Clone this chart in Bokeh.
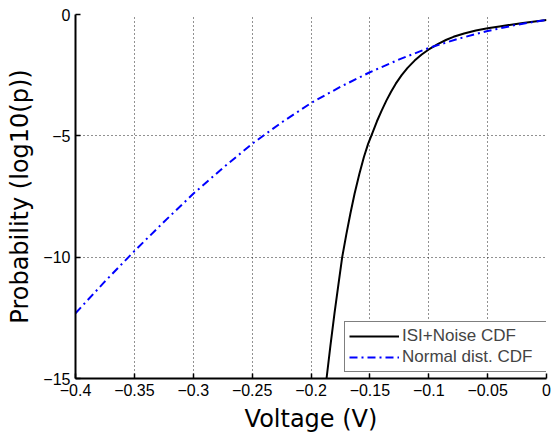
from bokeh.plotting import figure
from bokeh.models import FixedTicker, CustomJSTickFormatter, Range1d
from bokeh.embed import file_html
from bokeh.resources import INLINE

# ISI+Noise CDF (black solid)
isi_v = [-0.1868, -0.1835, -0.1800, -0.1765, -0.1735, -0.1700, -0.1665, -0.1630,
         -0.1590, -0.1550, -0.1515, -0.1488, -0.1440, -0.1400, -0.1360, -0.1320,
         -0.1280, -0.1230, -0.1180, -0.1120, -0.1060, -0.1000, -0.0920, -0.0850,
         -0.0790, -0.0700, -0.0600, -0.0500, -0.0400, -0.0300, -0.0200, -0.0100, 0.0]
isi_p = [-15.0, -13.65, -12.3, -11.05, -10.0, -9.06, -8.19, -7.39,
         -6.58, -5.86, -5.33, -5.0, -4.40, -3.96, -3.55, -3.18,
         -2.85, -2.50, -2.20, -1.90, -1.65, -1.44, -1.21, -1.04,
         -0.92, -0.78, -0.66, -0.57, -0.49, -0.42, -0.35, -0.29, -0.23]

# Normal dist. CDF (blue dash-dot)
norm_v = [-0.400, -0.375, -0.350, -0.325, -0.300, -0.275, -0.250, -0.225, -0.200,
          -0.175, -0.150, -0.125, -0.100, -0.075, -0.050, -0.025, 0.0]
norm_p = [-12.31, -11.0, -9.75, -8.55, -7.39, -6.33, -5.33, -4.45, -3.65,
          -2.98, -2.38, -1.85, -1.38, -1.0, -0.68, -0.42, -0.22]

x_ticks = [-0.4, -0.35, -0.3, -0.25, -0.2, -0.15, -0.1, -0.05, 0.0]
y_ticks = [-15, -10, -5, 0]

p = figure(width=552, height=437, output_backend="svg", toolbar_location=None,
           x_range=Range1d(-0.4, 0.0), y_range=Range1d(-15, 0),
           min_border_left=75, min_border_right=6, min_border_top=14, min_border_bottom=59)
p.outline_line_color = None
p.background_fill_color = "white"
p.border_fill_color = "white"

fmt = CustomJSTickFormatter(code="""
const s = String(+tick.toFixed(2));
return s.replace('-', '\u2212');
""")

for ax, ticks in ((p.xaxis[0], x_ticks), (p.yaxis[0], y_ticks)):
    ax.ticker = FixedTicker(ticks=ticks)
    ax.formatter = fmt
    ax.axis_line_width = 2
    ax.axis_line_color = "black"
    ax.major_tick_in = 5
    ax.major_tick_out = 0
    ax.major_tick_line_width = 1.5
    ax.minor_tick_in = 0
    ax.minor_tick_out = 0
    ax.major_label_text_font = "Liberation Sans"
    ax.major_label_text_font_size = "16px"
    ax.major_label_text_color = "black"
    ax.major_label_standoff = 5
    ax.axis_label_text_font = "DejaVu Sans"
    ax.axis_label_text_font_size = "24px"
    ax.axis_label_text_font_style = "normal"
    ax.axis_label_text_color = "black"
    ax.axis_label_standoff = 6

p.xaxis.axis_label = "Voltage (V)"
p.yaxis.axis_label = "Probability (log10(p))"

for g in (p.xgrid[0], p.ygrid[0]):
    g.grid_line_color = "#222222"
    g.grid_line_dash = "1 3"
    g.grid_line_width = 1

p.line(isi_v, isi_p, line_color="black", line_width=2, legend_label="ISI+Noise CDF")
p.line(norm_v, norm_p, line_color="#0000ff", line_width=2, line_dash="8 4 2 4",
       legend_label="Normal dist. CDF")

lg = p.legend[0]
lg.location = (269, 6)
lg.border_line_color = "black"
lg.border_line_width = 1.5
lg.background_fill_color = "white"
lg.background_fill_alpha = 1.0
lg.label_text_font = "Liberation Sans"
lg.label_text_font_size = "17px"
lg.glyph_width = 50
lg.glyph_height = 20
lg.label_height = 20
lg.label_width = 141
lg.label_standoff = 3
lg.padding = 4
lg.spacing = 1
lg.margin = 0

open("out.html", "w").write(file_html(p, INLINE))
